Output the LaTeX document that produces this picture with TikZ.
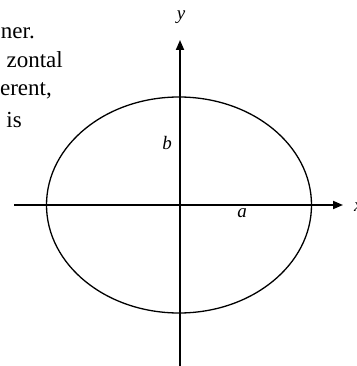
\documentclass[tikz,border=0pt]{standalone}
\usepackage{fontspec}
\setmainfont{Liberation Serif}
\usetikzlibrary{arrows.meta}
\begin{document}
\begin{tikzpicture}[x=1pt,y=-1pt,
  axis/.style={line width=1.8pt,-{Triangle[length=10pt,width=8pt]}},
  curve/.style={line width=1.3pt},
  body/.style={inner sep=0pt,font=\fontsize{23}{27}\selectfont},
  lbl/.style={inner sep=0pt,font=\fontsize{19}{22}\selectfont\itshape}]
\useasboundingbox (0,0) rectangle (356,366);
\coordinate (xs) at (14,205);
\coordinate (xe) at (343,205);
\coordinate (ys) at (180,366);
\coordinate (ye) at (180,40);
\draw[curve] (179,205) ellipse [x radius=132.5, y radius=108];
\draw[axis] (xs) -- (xe);
\draw[axis] (ys) -- (ye);
\node[lbl] (ly) at (181,17) {y};
\node[lbl] (lb) at (167,143) {b};
\node[lbl] (la) at (242,213) {a};
\node[lbl,anchor=west] (lx) at (354,207) {x};
\node[body,anchor=base east] (t1) at (35,39) {ner.};
\node[body,anchor=base east] (t2) at (63,68) {zontal};
\node[body,anchor=base east] (t3) at (52,96) {erent,};
\node[body,anchor=base east] (t4) at (22,128) {is};
\end{tikzpicture}
\end{document}
